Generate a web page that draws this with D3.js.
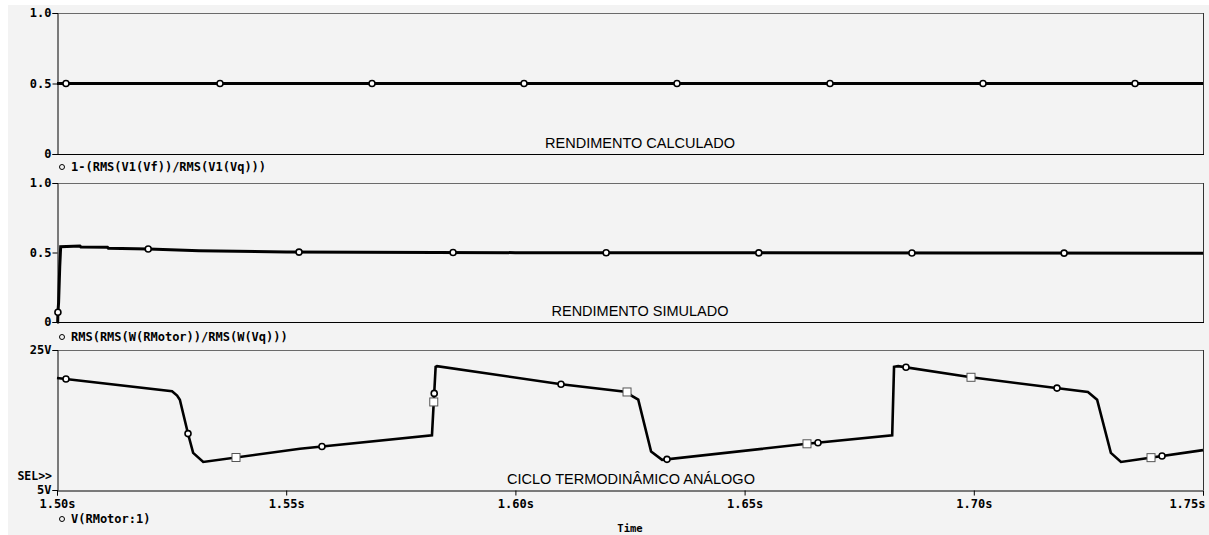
<!DOCTYPE html>
<html>
<head>
<meta charset="utf-8">
<script src="https://cdn.jsdelivr.net/npm/d3@7"></script>
<style>
  html, body { margin: 0; padding: 0; background: #ffffff; }
  svg { display: block; }
</style>
</head>
<body>
<svg id="chart" width="1209" height="535"></svg>
<script>
// ---------------- DATA ----------------
const xTickValues = [1.50, 1.55, 1.60, 1.65, 1.70, 1.75];
const xTickLabels = ["1.50s", "1.55s", "1.60s", "1.65s", "1.70s", "1.75s"];

// Panel 1: 1-(RMS(V1(Vf))/RMS(V1(Vq)))
const p1Time  = [1.50, 1.75];
const p1Value = [0.5, 0.5];
const p1CircleTimes = [1.50196, 1.53556, 1.56872, 1.60188, 1.63525, 1.66863, 1.70201, 1.73517];
const p1YTicks = [0, 0.5, 1.0];
const p1YLabels = ["0", "0.5", "1.0"];

// Panel 2: RMS(RMS(W(RMotor))/RMS(W(Vq)))
const p2Time  = [1.5000, 1.50015, 1.5002, 1.50035, 1.5006, 1.5008, 1.5050, 1.5052, 1.5110, 1.5112, 1.5200, 1.5310, 1.5500, 1.6000, 1.7000, 1.7500];
const p2Value = [0.0,    0.0,     0.07,   0.14,    0.40,   0.542,  0.546,  0.540,  0.537,  0.531,  0.525,  0.513,  0.503,  0.499,  0.496,  0.495];
const p2CircleTimes = [1.5002, 1.5199, 1.5528, 1.5864, 1.6198, 1.6531, 1.6865, 1.7197];
const p2YTicks = [0, 0.5, 1.0];
const p2YLabels = ["0", "0.5", "1.0"];

// Panel 3: V(RMotor:1)
const p3Time  = [1.5000, 1.5251, 1.5262, 1.5268, 1.5286, 1.5297, 1.5319, 1.5530, 1.5818, 1.5826, 1.5829, 1.6100, 1.6244, 1.6255, 1.6268, 1.6296, 1.6320, 1.6636, 1.6822, 1.6826, 1.6835, 1.6994, 1.7249, 1.7260, 1.7269, 1.7299, 1.7321, 1.7500];
const p3Value = [21.0,   19.1,   18.5,   17.9,   13.0,   10.3,   9.0,    10.9,   12.8,   22.6,   22.7,   20.1,   19.0,   18.4,   17.9,   10.5,   9.3,    11.6,   12.8,   22.6,   22.7,   21.1,   19.0,   18.4,   17.9,   10.3,   9.0,    10.7];
const p3CircleTimes = [1.50196, 1.52858, 1.5578, 1.58229, 1.60995, 1.63307, 1.66601, 1.68521, 1.71815, 1.74106];
const p3SquareTimes = [1.53905, 1.58219, 1.62435, 1.66361, 1.69939, 1.73866];
const p3YTicks = [5, 25];
const p3YLabels = ["5V", "25V"];

const panelTitles = ["RENDIMENTO CALCULADO", "RENDIMENTO SIMULADO", "CICLO TERMODINÂMICO ANÁLOGO"];
const legendTexts = ["1-(RMS(V1(Vf))/RMS(V1(Vq)))", "RMS(RMS(W(RMotor))/RMS(W(Vq)))", "V(RMotor:1)"];
const xAxisTitle = "Time";
const selLabel = "SEL>>";

// ---------------- DRAWING ----------------
const svg = d3.select("#chart");
const MONO = "'DejaVu Sans Mono', 'Liberation Mono', monospace";
const SANS = "'Liberation Sans', Arial, sans-serif";

svg.append("rect").attr("x", 8).attr("y", 5).attr("width", 1201).attr("height", 530).attr("fill", "#f3f3f3");

const left = 57, right = 1203;
const x = d3.scaleLinear().domain([1.50, 1.75]).range([left, right]);

const panels = [
  { top: 13,  bottom: 154, domain: [0, 1],  t: p1Time, v: p1Value, circles: p1CircleTimes, squares: [], ticks: p1YTicks, labels: p1YLabels, titleX: 640, titleY: 148, legendY: 167 },
  { top: 183, bottom: 322, domain: [0, 1],  t: p2Time, v: p2Value, circles: p2CircleTimes, squares: [], ticks: p2YTicks, labels: p2YLabels, titleX: 640, titleY: 316, legendY: 337 },
  { top: 350, bottom: 490, domain: [5, 25], t: p3Time, v: p3Value, circles: p3CircleTimes, squares: p3SquareTimes, ticks: p3YTicks, labels: p3YLabels, titleX: 631, titleY: 484, legendY: 519 }
];

function interp(ts, vs, t) {
  for (let i = 0; i < ts.length - 1; i++) {
    if (t >= ts[i] && t <= ts[i + 1]) {
      const f = (t - ts[i]) / (ts[i + 1] - ts[i]);
      return vs[i] + f * (vs[i + 1] - vs[i]);
    }
  }
  return vs[vs.length - 1];
}

panels.forEach((p, idx) => {
  const y = d3.scaleLinear().domain(p.domain).range([p.bottom, p.top]);
  const g = svg.append("g");

  // frame: top & right
  g.append("line").attr("x1", left).attr("x2", right).attr("y1", p.top + 0.5).attr("y2", p.top + 0.5)
    .attr("stroke", "#6a6a6a").attr("stroke-width", 1);
  g.append("line").attr("x1", right + 0.5).attr("x2", right + 0.5).attr("y1", p.top).attr("y2", p.bottom)
    .attr("stroke", "#333").attr("stroke-width", 1);

  // y axis
  const yAxis = d3.axisLeft(y).tickValues(p.ticks).tickFormat((d, i) => p.labels[i]).tickSizeOuter(0).tickSize(5).tickPadding(1);
  const ya = g.append("g").attr("transform", `translate(${left + 0.5},0)`).call(yAxis);
  ya.select(".domain").attr("stroke", "#000");
  ya.selectAll(".tick line").attr("stroke", "#000");
  ya.selectAll(".tick text").attr("font-family", MONO).attr("font-weight", "bold").attr("font-size", 12).attr("fill", "#000");

  // x axis (bottom line for every panel, ticks/labels on last only)
  if (idx === 2) {
    const xAxis = d3.axisBottom(x).tickValues(xTickValues).tickFormat((d, i) => xTickLabels[i]).tickSizeOuter(0).tickSize(5).tickPadding(4);
    const xa = g.append("g").attr("transform", `translate(0,${p.bottom + 0.5})`).call(xAxis);
    xa.select(".domain").attr("stroke", "#000");
    xa.selectAll(".tick line").attr("stroke", "#000");
    xa.selectAll(".tick text").attr("font-family", MONO).attr("font-weight", "bold").attr("font-size", 12).attr("fill", "#000")
      .attr("text-anchor", (d, i) => i === xTickValues.length - 1 ? "end" : "middle")
      .attr("dx", (d, i) => i === xTickValues.length - 1 ? 2 : 0);
  } else {
    g.append("line").attr("x1", left).attr("x2", right + 1).attr("y1", p.bottom + 0.5).attr("y2", p.bottom + 0.5)
      .attr("stroke", "#000").attr("stroke-width", 1);
  }

  // title
  g.append("text").attr("x", p.titleX).attr("y", p.titleY).attr("text-anchor", "middle")
    .attr("font-family", SANS).attr("font-size", 14.5).attr("fill", "#000").text(panelTitles[idx]);

  // trace
  const line = d3.line().x((d, i) => x(p.t[i])).y((d, i) => y(p.v[i]));
  g.append("path").datum(p.t).attr("d", line).attr("fill", "none").attr("stroke", "#000")
    .attr("stroke-width", idx === 2 ? 2.6 : 3).attr("stroke-linejoin", "miter");

  // markers
  g.selectAll("rect.sq").data(p.squares).join("rect").attr("class", "sq")
    .attr("x", d => x(d) - 4).attr("y", d => y(interp(p.t, p.v, d)) - 4)
    .attr("width", 8).attr("height", 8).attr("fill", "#fff").attr("stroke", "#555").attr("stroke-width", 1);
  g.selectAll("circle.ci").data(p.circles).join("circle").attr("class", "ci")
    .attr("cx", d => x(d)).attr("cy", d => y(interp(p.t, p.v, d)))
    .attr("r", 3).attr("fill", "#fff").attr("stroke", "#000").attr("stroke-width", 1.6);

  // legend
  g.append("circle").attr("cx", 62).attr("cy", p.legendY).attr("r", 2.5).attr("fill", "none").attr("stroke", "#000").attr("stroke-width", 1);
  g.append("text").attr("x", 71).attr("y", p.legendY + 4).attr("font-family", MONO).attr("font-weight", "bold")
    .attr("font-size", 12).attr("fill", "#000").text(legendTexts[idx]);
});

// SEL>> marker and Time title
svg.append("text").attr("x", 52).attr("y", 480).attr("text-anchor", "end").attr("font-family", MONO)
  .attr("font-weight", "bold").attr("font-size", 11.5).attr("fill", "#000").text(selLabel);
svg.append("text").attr("x", 630).attr("y", 532).attr("text-anchor", "middle").attr("font-family", MONO)
  .attr("font-weight", "bold").attr("font-size", 10.5).attr("fill", "#000").text(xAxisTitle);
</script>
</body>
</html>
